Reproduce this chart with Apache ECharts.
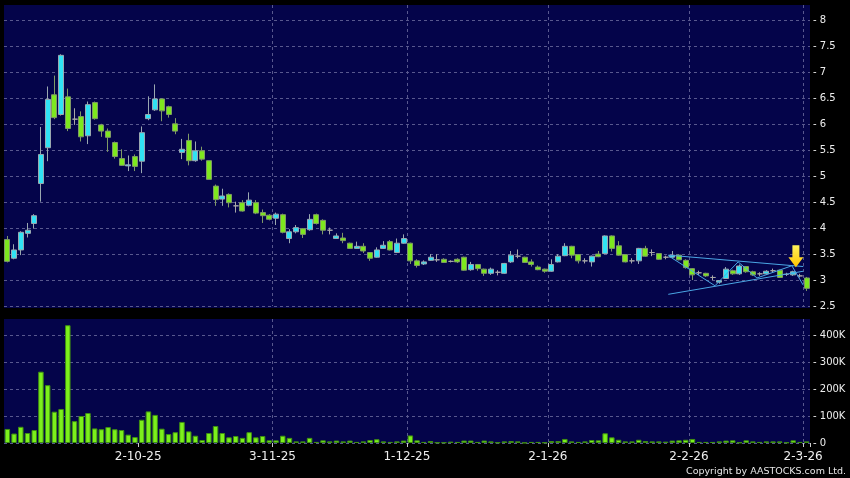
<!DOCTYPE html>
<html><head><meta charset="utf-8">
<script src="https://cdn.jsdelivr.net/npm/echarts@6/dist/echarts.min.js"></script>
<style>html,body{margin:0;padding:0;background:#000;}#c{width:850px;height:478px;}</style>
</head><body><div id="c"></div><script>
const categories = [
'3-9-25','4-9-25','5-9-25','8-9-25','9-9-25','10-9-25','11-9-25','12-9-25','15-9-25','16-9-25','17-9-25','18-9-25','19-9-25','22-9-25','23-9-25','24-9-25','25-9-25','26-9-25','29-9-25','30-9-25',
'2-10-25','3-10-25','6-10-25','8-10-25','9-10-25','10-10-25','13-10-25','14-10-25','15-10-25','16-10-25','17-10-25','20-10-25','21-10-25','22-10-25','23-10-25','24-10-25','27-10-25','28-10-25','30-10-25','31-10-25',
'3-11-25','4-11-25','5-11-25','6-11-25','7-11-25','10-11-25','11-11-25','12-11-25','13-11-25','14-11-25','17-11-25','18-11-25','19-11-25','20-11-25','21-11-25','24-11-25','25-11-25','26-11-25','27-11-25','28-11-25',
'1-12-25','2-12-25','3-12-25','4-12-25','5-12-25','8-12-25','9-12-25','10-12-25','11-12-25','12-12-25','15-12-25','16-12-25','17-12-25','18-12-25','19-12-25','22-12-25','23-12-25','24-12-25','29-12-25','30-12-25','31-12-25',
'2-1-26','5-1-26','6-1-26','7-1-26','8-1-26','9-1-26','12-1-26','13-1-26','14-1-26','15-1-26','16-1-26','19-1-26','20-1-26','21-1-26','22-1-26','23-1-26','26-1-26','27-1-26','28-1-26','29-1-26','30-1-26',
'2-2-26','3-2-26','4-2-26','5-2-26','6-2-26','9-2-26','10-2-26','11-2-26','12-2-26','13-2-26','16-2-26','20-2-26','23-2-26','24-2-26','25-2-26','26-2-26','27-2-26',
'2-3-26'];

const openP = [3.78,3.42,3.58,3.90,4.09,4.86,5.55,6.57,6.19,6.53, 6.10,6.15,5.78,6.42,5.99,5.87,5.65,5.34,5.20,5.38,
 5.29,6.11,6.28,6.49,6.34,6.01,5.46,5.69,5.30,5.49, 5.30,4.81,4.56,4.65,4.43,4.49,4.44,4.49,4.30,4.25,
 4.19,4.26,3.80,3.93,3.99,3.97,4.26,4.15,3.96,3.80, 3.81,3.71,3.61,3.65,3.53,3.44,3.61,3.74,3.53,3.71,
 3.71,3.37,3.31,3.38,3.39,3.40,3.36,3.40,3.44,3.20, 3.30,3.21,3.13,3.15,3.13,3.35,3.46,3.44,3.35,3.25,
 3.21,3.17,3.35,3.47,3.65,3.49,3.37,3.35,3.50,3.51, 3.85,3.66,3.49,3.37,3.37,3.61,3.53,3.51,3.44,3.44,
 3.48,3.38,3.22,3.14,3.13,3.05,2.96,3.03,3.18,3.12, 3.26,3.16,3.12,3.12,3.18,3.19,3.11,3.10,3.08,3.04];
const closeP = [3.36,3.58,3.92,3.96,4.24,5.42,6.48,6.13,7.33,5.92, 6.10,5.76,6.38,6.11,5.87,5.75,5.38,5.21,5.22,5.19,
 5.84,6.19,6.49,6.26,6.19,5.87,5.52,5.30,5.49,5.33, 4.94,4.55,4.62,4.49,4.43,4.33,4.54,4.29,4.24,4.17,
 4.27,3.92,3.93,4.01,3.88,4.17,4.09,3.96,3.96,3.85, 3.76,3.61,3.65,3.56,3.42,3.58,3.67,3.58,3.71,3.80,
 3.37,3.28,3.35,3.44,3.39,3.34,3.36,3.35,3.19,3.30, 3.22,3.13,3.21,3.15,3.32,3.48,3.46,3.34,3.30,3.20,
 3.17,3.30,3.46,3.65,3.48,3.37,3.37,3.46,3.45,3.85, 3.61,3.48,3.35,3.37,3.61,3.46,3.53,3.40,3.44,3.48,
 3.39,3.24,3.10,3.14,3.08,3.05,2.99,3.21,3.12,3.27, 3.16,3.10,3.12,3.17,3.18,3.05,3.11,3.16,3.08,2.84];
const lowP = [3.34,3.40,3.48,3.82,3.99,4.51,5.29,6.10,6.17,5.87, 5.99,5.67,5.62,6.09,5.76,5.47,5.34,5.20,5.10,5.10,
 5.06,6.08,6.26,6.06,6.13,5.81,5.33,5.21,5.28,5.30, 4.94,4.43,4.43,4.40,4.30,4.32,4.42,4.27,4.10,4.15,
 4.06,3.90,3.71,3.90,3.81,3.95,4.07,3.88,3.88,3.80, 3.71,3.60,3.60,3.52,3.37,3.43,3.60,3.57,3.52,3.70,
 3.31,3.24,3.29,3.37,3.35,3.33,3.34,3.33,3.18,3.18, 3.18,3.08,3.10,3.09,3.12,3.33,3.42,3.33,3.26,3.19,
 3.14,3.16,3.34,3.46,3.42,3.32,3.32,3.26,3.44,3.50, 3.55,3.47,3.34,3.32,3.31,3.45,3.46,3.39,3.40,3.43,
 3.38,3.22,3.00,3.10,3.06,3.00,2.93,3.02,3.10,3.10, 3.14,3.08,3.08,3.10,3.14,3.04,3.08,3.08,3.05,2.79];
const highP = [3.85,3.69,3.94,4.10,4.27,5.95,6.73,6.94,7.35,6.69, 6.31,6.25,6.44,6.44,6.01,5.92,5.67,5.52,5.40,5.42,
 5.96,6.54,6.77,6.50,6.36,6.12,5.72,5.82,5.67,5.57, 5.30,4.84,4.76,4.67,4.51,4.54,4.69,4.54,4.36,4.27,
 4.30,4.28,3.98,4.06,4.00,4.27,4.28,4.17,4.01,3.90, 3.91,3.72,3.74,3.71,3.54,3.63,3.75,3.77,3.80,3.88,
 3.72,3.40,3.38,3.50,3.50,3.42,3.38,3.42,3.45,3.35, 3.31,3.22,3.24,3.19,3.33,3.56,3.59,3.45,3.40,3.28,
 3.22,3.40,3.50,3.71,3.66,3.50,3.42,3.47,3.56,3.86, 3.86,3.75,3.50,3.42,3.62,3.66,3.59,3.52,3.47,3.56,
 3.49,3.40,3.23,3.18,3.14,3.09,3.00,3.25,3.20,3.30, 3.27,3.18,3.15,3.19,3.22,3.20,3.14,3.18,3.12,3.06];

const volumeK = [52,35,60,37,48,264,214,116,126,436, 81,100,111,54,51,59,51,48,31,22,
 86,117,104,53,33,40,78,43,27,11, 37,63,37,21,26,19,40,21,26,10,
 10,27,19,6,6,19,4,10,6,9, 6,9,4,6,11,14,6,4,6,9,
 28,10,4,7,2,2,5,4,9,9, 4,9,6,2,6,7,6,1,4,4,
 2,7,7,15,6,4,6,11,10,36, 21,12,6,6,12,7,6,6,5,9,
 10,12,15,4,4,4,6,9,10,2, 10,6,4,6,6,6,2,10,4,6];

// pattern annotation lines, in [bar index, price]
const triangleUpper = [[98.4,3.48],[118.5,3.26]];
const triangleLower = [[98.4,2.725],[118.5,3.17]];
const zigzagLine = [[98.4,3.47],[105.35,2.89],[108.8,3.35],[111.6,3.04],[116.8,3.275],[118.5,2.90]];
const arrowMark = [[117.4,3.46]];

const isMonthStart = (i) => i > 0 && i < categories.length && categories[i].split('-')[1] !== categories[i-1].split('-')[1];
const FONT = 'DejaVu Sans';
const NAVY = '#04044a';
const GRIDC = '#58588e';

const chart = echarts.init(document.getElementById('c'), null, {renderer:'canvas'});
const splitCfg = {show:true, showMinLine:false, showMaxLine:false, lineStyle:{color:GRIDC, type:[3,3], width:1}};
const splitCfgY = {show:true, showMaxLine:false, lineStyle:{color:GRIDC, type:[3,3], width:1}};

chart.setOption({
  animation:false,
  backgroundColor:'#000000',
  graphic:[
    {type:'rect', z:-10, silent:true, shape:{x:4,y:5,width:806,height:303}, style:{fill:NAVY}},
    {type:'rect', z:-10, silent:true, shape:{x:4,y:319,width:806,height:124}, style:{fill:NAVY}},
    {type:'text', right:4, bottom:1, style:{text:'Copyright by AASTOCKS.com Ltd.', fill:'#e6e6e6', font:'9.5px "DejaVu Sans"'}}
  ],
  grid:[
    {left:4, right:40, top:5, height:301},
    {left:4, right:40, top:319, height:124}
  ],
  xAxis:[
    {type:'category', gridIndex:0, data:categories, boundaryGap:true,
     axisLine:{show:false}, axisTick:{show:false}, axisLabel:{show:false},
     splitLine:Object.assign({interval:(i)=>isMonthStart(i)}, splitCfg)},
    {type:'category', gridIndex:1, data:categories, boundaryGap:true, offset:3,
     axisLine:{show:false},
     axisTick:{show:true, interval:(i)=>isMonthStart(i), length:4, lineStyle:{color:'#cccccc'}},
     axisLabel:{show:true, interval:(i)=>isMonthStart(i), color:'#eeeeee', fontFamily:FONT, fontSize:12, margin:5, padding:[0,7,0,0]},
     splitLine:Object.assign({interval:(i)=>isMonthStart(i)}, splitCfg)},
    {type:'value', gridIndex:0, min:-0.5, max:categories.length-0.5, show:false}
  ],
  yAxis:[
    {type:'value', gridIndex:0, position:'right', min:2.5, max:8.3, interval:0.5,
     axisLine:{show:false}, axisTick:{show:false},
     axisLabel:{color:'#eeeeee', fontFamily:FONT, fontSize:10, margin:3,
       formatter:(v)=> (Math.abs(v*2-Math.round(v*2))<1e-6 ? '- '+v : '')},
     splitLine:splitCfgY},
    {type:'value', gridIndex:1, position:'right', min:0, max:459000, interval:100000,
     axisLine:{show:false}, axisTick:{show:false},
     axisLabel:{color:'#eeeeee', fontFamily:FONT, fontSize:10, margin:3,
       formatter:(v)=> (v%100000===0 ? '- '+(v===0?'0':(v/1000)+'K') : '')},
     splitLine:splitCfgY}
  ],
  series:[
    {type:'candlestick', xAxisIndex:0, yAxisIndex:0, barWidth:5.5,
     data: openP.map((o,i)=>[o, closeP[i], lowP[i], highP[i]]),
     itemStyle:{color:'#30e2f4', color0:'#7ee81e', borderColor:'#9aa8b0', borderColor0:'#7f9a66', borderColorDoji:'#a8a8a8', borderWidth:1}},
    {type:'bar', xAxisIndex:1, yAxisIndex:1, barWidth:5.5,
     data: volumeK.map(v=>v*1000),
     itemStyle:{color:'#7cf01c', borderColor:'#3f8f12', borderWidth:1}},
    {type:'line', xAxisIndex:2, yAxisIndex:0, data:triangleUpper, symbol:'none', lineStyle:{color:'#4aa6e4', width:1}, z:5},
    {type:'line', xAxisIndex:2, yAxisIndex:0, data:triangleLower, symbol:'none', lineStyle:{color:'#4aa6e4', width:1}, z:5},
    {type:'line', xAxisIndex:2, yAxisIndex:0, data:zigzagLine, symbol:'none', lineStyle:{color:'#4aa6e4', width:1}, z:5},
    {type:'scatter', xAxisIndex:2, yAxisIndex:0, data:arrowMark, z:6,
     symbol:'path://M4,0 L11,0 L11,12 L15,12 L7.5,22 L0,12 L4,12 Z', symbolSize:[15,22], symbolKeepAspect:false,
     itemStyle:{color:new echarts.graphic.LinearGradient(0,0,0,1,[{offset:0,color:'#fff25a'},{offset:1,color:'#ffc400'}]), opacity:1}}
  ]
});
</script></body></html>
